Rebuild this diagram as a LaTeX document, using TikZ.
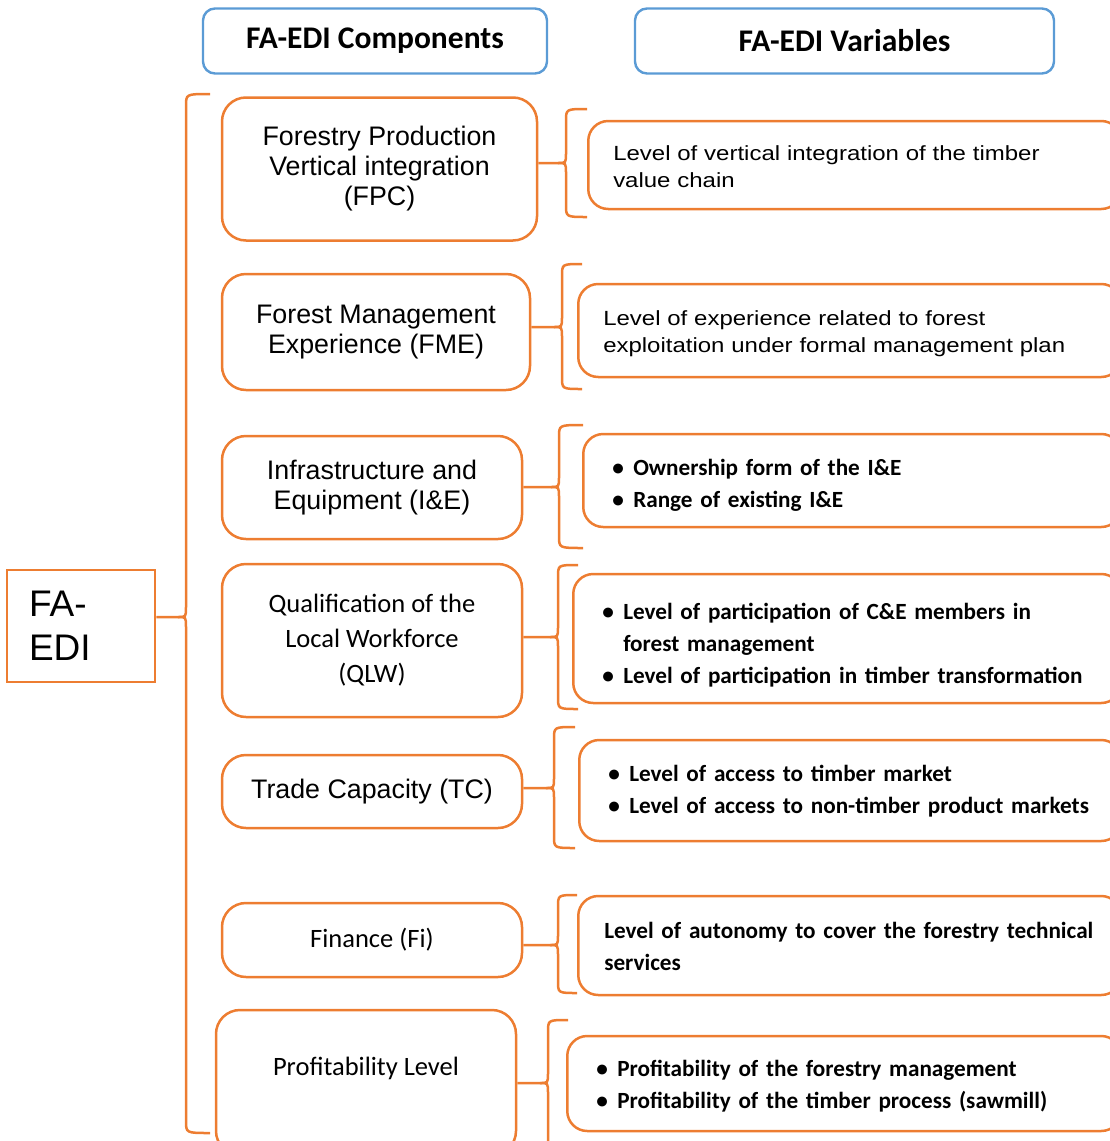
\documentclass[tikz,border=0pt]{standalone}
\usepackage{fontspec}
\setmainfont{Carlito}
\newfontfamily\arialfont{Liberation Sans}
\newfontfamily\widearial[FakeStretch=1.17]{Liberation Sans}
\usepackage{tikz}
\usetikzlibrary{calc}

\definecolor{edgeorange}{HTML}{ED7D31}
\definecolor{headblue}{HTML}{5B9BD5}

\tikzset{
  headbox/.style={draw=headblue, line width=2.4pt, rounded corners=12pt, inner sep=0pt,
    font=\fontsize{31.5}{36}\selectfont\bfseries},
  compbox/.style={draw=edgeorange, line width=2.5pt, rounded corners=24pt, inner sep=0pt, align=center,
    minimum width=300pt},
  arialtext/.style={font=\fontsize{26.8}{30}\selectfont\arialfont},
  calibtext/.style={font=\fontsize{26.5}{35}\selectfont},
  varbox/.style={draw=edgeorange, line width=2.5pt, rounded corners=20pt, anchor=west, align=left,
    inner ysep=0pt},
  vartext/.style={inner xsep=25pt, font=\fontsize{20.5}{27}\selectfont\widearial},
  bullettext/.style={inner xsep=29pt, font=\fontsize{23.2}{32}\selectfont\bfseries},
  bracket/.style={draw=edgeorange, line width=2.5pt},
}

% bullet line and its continuation
\newcommand{\bitem}[1]{\par\noindent\makebox[21pt][l]{\textbullet}\mbox{#1}}
\newcommand{\bcont}[1]{\par\noindent\hspace*{21pt}\mbox{#1}}
\newcommand{\tline}[1]{\par\noindent\mbox{#1}}
\newcommand{\lift}[1]{\rule[-#1]{0pt}{#1}}

% brace: spine x, hook x, top, tip y, bottom, node
\newcommand{\sidebrace}[6]{%
  \draw[bracket] (#2,#3) .. controls (#1,#3) .. (#1,#3+12) -- (#1,#4-10)
    .. controls (#1,#4) .. (#1-8,#4) -- (#6.east |- 0,#4);
  \draw[bracket] (#1-8,#4) .. controls (#1,#4) .. (#1,#4+10) -- (#1,#5-12)
    .. controls (#1,#5) .. (#2,#5);}

\begin{document}
\begin{tikzpicture}[x=1pt, y=-1pt]
\useasboundingbox (0,0) rectangle (1110,1141);
\clip (0,0) rectangle (1110,1141);

% headers
\node[headbox, minimum width=344pt, minimum height=65pt] (hcomp) at (375,41) {FA-EDI Components};
\node[headbox, minimum width=419pt, minimum height=65pt] (hvar) at (844.5,41) {FA-EDI Variables};

% root
\node[draw=edgeorange, line width=2.5pt, minimum width=148pt, minimum height=112pt,
  text width=104pt, inner xsep=22pt, align=left, font=\fontsize{37}{44}\selectfont\arialfont]
  (faedi) at (81,626) {FA-\\EDI};

% components
\node[compbox, arialtext, minimum width=315pt, minimum height=143pt] (fpc) at (379.5,169)
  {Forestry Production\\Vertical integration\\(FPC)};
\node[compbox, arialtext, minimum width=308pt, minimum height=116pt] (fme) at (376,332)
  {Forest Management\\Experience (FME)};
\node[compbox, arialtext, minimum height=103pt] (ie) at (372,487.5)
  {Infrastructure and\\Equipment (I\&E)};
\node[compbox, calibtext, minimum height=153pt] (qlw) at (372,640.5)
  {Qualification of the\\Local Workforce\\(QLW)};
\node[compbox, arialtext, minimum height=73pt] (tc) at (372,791.5) {Trade Capacity (TC)};
\node[compbox, calibtext, minimum height=74pt] (fi) at (372,940) {Finance (Fi)};
\node[compbox, calibtext, minimum height=145pt, text height=18pt, text depth=33pt] (prof) at (366,1082.5)
  {Profitability Level};

% variables
\node[varbox, vartext, minimum height=88pt, text width=483pt] (vfpc) at (587,165)
  {\tline{Level of vertical integration of the timber}\tline{value chain\lift{10pt}}};
\node[varbox, vartext, minimum height=93pt, text width=493pt] (vfme) at (577,330.5)
  {\tline{Level of experience related to forest}\tline{exploitation under formal management plan\lift{11pt}}};
\node[varbox, bullettext, minimum height=93pt, text width=480pt] (vie) at (582,480.5)
  {\bitem{Ownership form of the I\&E}\bitem{Range of existing I\&E\lift{11pt}}};
\node[varbox, bullettext, minimum height=129pt, text width=490pt] (vqlw) at (572,638.5)
  {\bitem{Level of participation of C\&E members in}\bcont{forest management}%
   \bitem{Level of participation in timber transformation\lift{7pt}}};
\node[varbox, bullettext, minimum height=101pt, text width=484pt] (vtc) at (578,790.5)
  {\bitem{Level of access to timber market}\bitem{Level of access to non-timber product markets\lift{19pt}}};
\node[varbox, bullettext, inner xsep=26pt, minimum height=99pt, text width=491pt] (vfi) at (577,945.5)
  {\tline{Level of autonomy to cover the forestry technical}\tline{services\lift{14pt}}};
\node[varbox, bullettext, minimum height=95pt, text width=496pt] (vprof) at (566,1083.5)
  {\bitem{Profitability of the forestry management}\bitem{Profitability of the timber process (sawmill)\lift{14pt}}};

% braces
\sidebrace{186}{210}{94}{617}{1133}{faedi}
\sidebrace{566}{587}{109}{163}{217}{fpc}
\sidebrace{562}{582}{264}{327}{389}{fme}
\sidebrace{559}{583}{425}{487}{548}{ie}
\sidebrace{558}{578}{565}{637}{709}{qlw}
\sidebrace{554}{575}{727}{788}{848}{tc}
\sidebrace{558}{577}{895}{945}{993}{fi}
\sidebrace{548}{568}{1020}{1083}{1180}{prof}
\end{tikzpicture}
\end{document}
